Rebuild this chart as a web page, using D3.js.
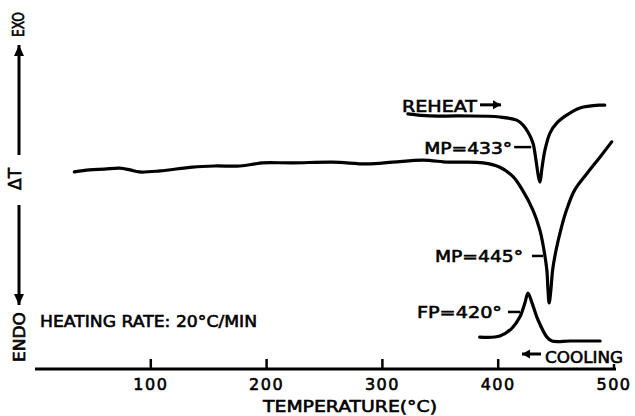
<!DOCTYPE html>
<html>
<head>
<meta charset="utf-8">
<script src="https://cdn.jsdelivr.net/npm/d3@7/dist/d3.min.js"></script>
<style>
	body { margin: 0; background: #fff; }
	svg { display: block; }
	text {
		font-family: "DejaVu Sans", sans-serif;
		fill: #000;
		stroke: #000;
		stroke-width: 0.6;
	}
</style>
</head>
<body>
<svg width="635" height="416"></svg>
<script>
const tickTemps = [100, 200, 300, 400, 500];

// first heating run, temperature (°C) and ΔT (arbitrary units)
const heatTemp = [34, 47, 60, 73, 82, 90, 108, 136, 155, 177, 190, 196, 223, 257, 287, 309, 335, 356, 367, 387,
	401, 413, 421, 430, 436, 439.5, 442, 443, 444, 445.5, 447, 450, 454, 459, 466, 477, 488, 498];
const heatDT = [56.3, 56.9, 57.1, 57.4, 56.9, 56.3, 56.6, 57.7, 58.0, 58.0, 58.6, 58.9, 58.9, 59.1, 58.6, 59.1, 59.7, 59.1, 59.1, 58.9,
	57.7, 54.9, 51.1, 45.4, 39.7, 34.0, 28.3, 22.6, 18.9, 22.6, 28.3, 34.0, 39.7, 45.4, 51.1, 56.0, 60.6, 64.9];

// reheat run
const reheatTemp = [322, 341, 367, 401.5, 416, 421.5, 425.7, 430, 432.6, 434.8, 436.1, 437.8, 440.4, 444.7, 450.7, 459.4, 470.6, 488, 492];
const reheatDT = [72.9, 72.3, 72.3, 72.0, 71.1, 69.7, 67.7, 64.6, 59.7, 54.9, 53.4, 57.4, 62.6, 67.4, 70.3, 72.6, 74.6, 75.4, 75.4];

// cooling run
const coolTemp = [384, 401.5, 412, 418.8, 423.1, 425.7, 429.2, 434.4, 442.1, 446.4, 462, 488];
const coolDT = [9.1, 9.4, 11.7, 14.9, 18.9, 21.7, 18.9, 14.0, 9.1, 8.0, 8.0, 8.0];

// peak labels and the point where each leader meets its curve
const peakLabels = ["MP=433°", "MP=445°", "FP=420°"];
const peakTemp = [428.5, 438.7, 418.8];
const peakDT = [63.4, 32.3, 16.3];

class Thermogram {
	constructor() {
		this.svg = d3.select("svg");
		this.xScale = d3.scaleLinear().domain([0, 500]).range([35, 614]);
		this.yScale = d3.scaleLinear().domain([0, 100]).range([369, 19]);
		this.g = this.svg.append("g");
		this.drawXAxis();
		this.drawDeltaAxis();
		this.drawCurves();
		this.drawPeakLabels();
		this.drawNotes();
	}

	arrow = (g, x1, y1, x2, y2, head, width) => {
		g.append("line")
			.attr("x1", x1).attr("y1", y1)
			.attr("x2", x2).attr("y2", y2)
			.attr("stroke", "#000")
			.attr("stroke-width", 3);
		const a = Math.atan2(y2 - y1, x2 - x1);
		const bx = x2 - head * Math.cos(a);
		const by = y2 - head * Math.sin(a);
		const px = (width / 2) * Math.sin(a);
		const py = (width / 2) * Math.cos(a);
		g.append("path")
			.attr("d", "M" + x2 + "," + y2 + "L" + (bx + px) + "," + (by - py) + "L" + (bx - px) + "," + (by + py) + "Z")
			.attr("fill", "#000");
	};

	drawXAxis = () => {
		const y0 = this.yScale(0);
		this.g.append("line")
			.attr("x1", this.xScale(0))
			.attr("x2", this.xScale(500) + 2)
			.attr("y1", y0)
			.attr("y2", y0)
			.attr("stroke", "#000")
			.attr("stroke-width", 3);
		tickTemps.forEach((t) => {
			this.g.append("line")
				.attr("x1", this.xScale(t))
				.attr("x2", this.xScale(t))
				.attr("y1", y0)
				.attr("y2", y0 - (t === 500 ? 5 : 10))
				.attr("stroke", "#000")
				.attr("stroke-width", 2.5);
			this.g.append("text")
				.attr("x", this.xScale(t))
				.attr("y", y0 + 21)
				.attr("text-anchor", "middle")
				.attr("font-size", "16px")
				.attr("letter-spacing", "1.5px")
				.text(t);
		});
		this.g.append("text")
			.attr("x", 263)
			.attr("y", 412)
			.attr("font-size", "16px")
			.attr("textLength", 174)
			.attr("lengthAdjust", "spacingAndGlyphs")
			.text("TEMPERATURE(°C)");
	};

	drawDeltaAxis = () => {
		const g = this.g.append("g");
		const x = 19;
		this.arrow(g, x, 155, x, 45, 11, 10);
		this.arrow(g, x, 205, x, 305, 11, 10);
		g.append("text")
			.attr("transform", "translate(" + (x + 5) + ",37) rotate(-90)")
			.attr("font-size", "15px")
			.attr("textLength", 25)
			.attr("lengthAdjust", "spacingAndGlyphs")
			.text("EXO");
		g.append("text")
			.attr("transform", "translate(" + (x + 2) + ",179) rotate(-90)")
			.attr("font-size", "17px")
			.attr("text-anchor", "middle")
			.text("ΔT");
		g.append("text")
			.attr("transform", "translate(" + (x + 6) + ",362) rotate(-90)")
			.attr("font-size", "15px")
			.attr("textLength", 50)
			.attr("lengthAdjust", "spacingAndGlyphs")
			.text("ENDO");
	};

	drawCurves = () => {
		const line = d3.line()
			.x((d) => this.xScale(d[0]))
			.y((d) => this.yScale(d[1]))
			.curve(d3.curveCatmullRom.alpha(0.5));
		[
			[heatTemp, heatDT],
			[reheatTemp, reheatDT],
			[coolTemp, coolDT],
		].forEach(([ts, dts]) => {
			this.g.append("path")
				.datum(d3.zip(ts, dts))
				.attr("d", line)
				.attr("fill", "none")
				.attr("stroke", "#000")
				.attr("stroke-width", 3.2)
				.attr("stroke-linejoin", "round")
				.attr("stroke-linecap", "round");
		});
	};

	drawPeakLabels = () => {
		const leader = [17, 11, 12];
		const gap = [2, 9, 6];
		const widths = [88, 88, 85];
		peakLabels.forEach((label, i) => {
			const x = this.xScale(peakTemp[i]);
			const y = this.yScale(peakDT[i]);
			this.g.append("line")
				.attr("x1", x - leader[i])
				.attr("x2", x)
				.attr("y1", y)
				.attr("y2", y)
				.attr("stroke", "#000")
				.attr("stroke-width", 2.5);
			this.g.append("text")
				.attr("x", x - leader[i] - gap[i] - widths[i])
				.attr("y", y + 6.5)
				.attr("font-size", "16px")
				.attr("textLength", widths[i])
				.attr("lengthAdjust", "spacingAndGlyphs")
				.text(label);
		});
	};

	drawNotes = () => {
		// REHEAT with right arrow, sitting on the start of the reheat run
		const rx = 402;
		const ry = this.yScale(reheatDT[0]) - 2;
		this.g.append("text")
			.attr("x", rx)
			.attr("y", ry)
			.attr("font-size", "16px")
			.attr("textLength", 75)
			.attr("lengthAdjust", "spacingAndGlyphs")
			.text("REHEAT");
		this.arrow(this.g, rx + 78, ry - 7, rx + 99, ry - 7, 8, 9);

		// COOLING with left arrow, under the cooling run
		const cy = this.yScale(0) - 6;
		this.arrow(this.g, 541, cy - 9, 522, cy - 9, 8, 9);
		this.g.append("text")
			.attr("x", 545)
			.attr("y", cy)
			.attr("font-size", "16px")
			.attr("textLength", 78)
			.attr("lengthAdjust", "spacingAndGlyphs")
			.text("COOLING");

		this.g.append("text")
			.attr("x", 40)
			.attr("y", 327)
			.attr("font-size", "16px")
			.attr("textLength", 217)
			.attr("lengthAdjust", "spacingAndGlyphs")
			.text("HEATING RATE: 20°C/MIN");
	};
}

new Thermogram();
</script>
</body>
</html>
